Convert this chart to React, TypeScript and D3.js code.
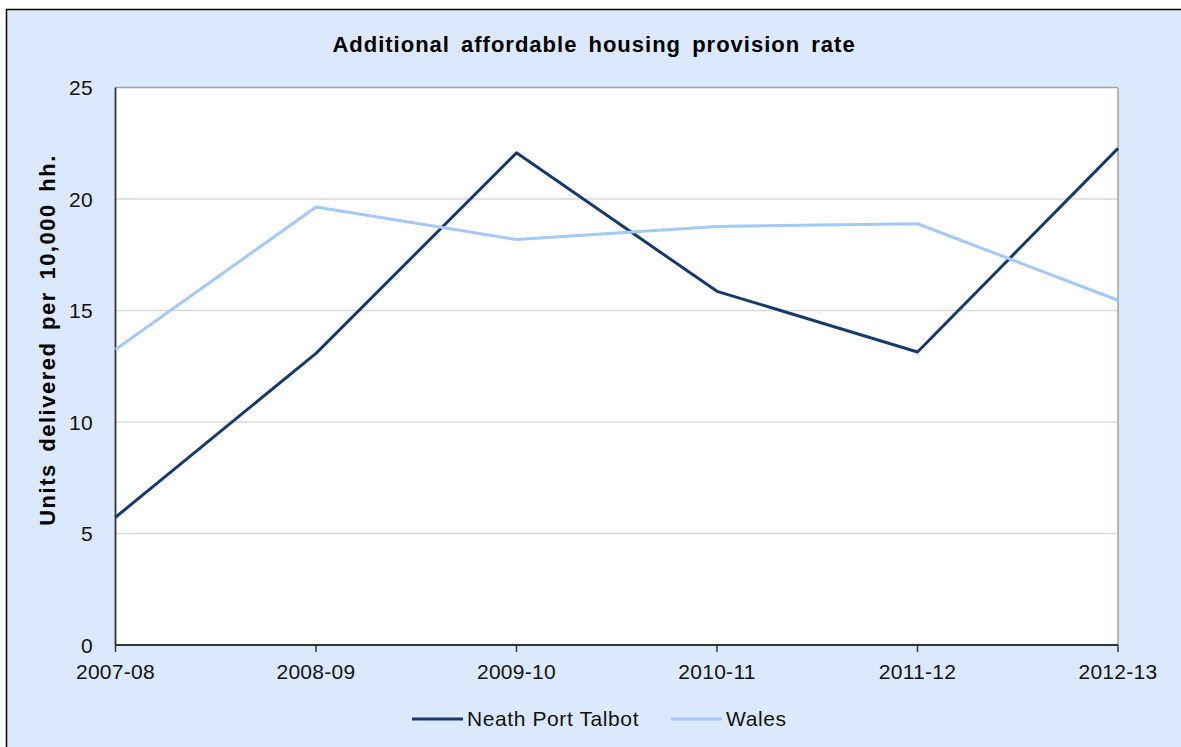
import React from "react";
import * as d3 from "d3";

const categories = ["2007-08", "2008-09", "2009-10", "2010-11", "2011-12", "2012-13"];
const neathPortTalbot = [5.73, 13.08, 22.07, 15.86, 13.14, 22.27];
const wales = [13.25, 19.64, 18.18, 18.77, 18.89, 15.46];
const yTicks = [0, 5, 10, 15, 20, 25];
const seriesNames = ["Neath Port Talbot", "Wales"];
const seriesColors = ["#173a6c", "#a3c9f7"];

const W = 1181;
const H = 747;
const plot = { left: 115.5, right: 1118, top: 87.5, bottom: 645 };
const FONT = "'Liberation Sans', Arial, sans-serif";

export default function App() {
  const x = d3.scalePoint<string>().domain(categories).range([plot.left, plot.right]);
  const y = d3.scaleLinear().domain([0, 25]).range([plot.bottom, plot.top]);
  const line = d3
    .line<number>()
    .x((_, i) => x(categories[i]) as number)
    .y((d) => y(d));
  const series = [neathPortTalbot, wales];

  return (
    <svg
      width={W}
      height={H}
      style={{ position: "absolute", left: 0, top: 0, display: "block" }}
      fontFamily={FONT}
    >
      <rect x={0} y={0} width={W} height={H} fill="#ffffff" />
      <rect x={6.5} y={9.5} width={W + 10} height={H + 10} fill="#dce9fc" stroke="#000" strokeWidth={1.5} />
      <text x={594} y={52} textAnchor="middle" fontSize={22} fontWeight="bold" letterSpacing={1} wordSpacing={4} fill="#000">
        Additional affordable housing provision rate
      </text>
      <rect
        x={plot.left}
        y={plot.top}
        width={plot.right - plot.left}
        height={plot.bottom - plot.top}
        fill="#ffffff"
      />
      {yTicks.filter((t) => t > 0 && t < 25).map((t) => (
        <line key={t} x1={plot.left} x2={plot.right} y1={y(t)} y2={y(t)} stroke="#d9d9d9" strokeWidth={1.5} />
      ))}
      <line x1={plot.left} x2={plot.right} y1={plot.top} y2={plot.top} stroke="#a0a0a0" strokeWidth={1.5} />
      <line x1={plot.right} x2={plot.right} y1={plot.top} y2={plot.bottom} stroke="#a0a0a0" strokeWidth={1.5} />
      <line x1={plot.left} x2={plot.left} y1={plot.top} y2={plot.bottom} stroke="#333" strokeWidth={1.8} />
      <line x1={plot.left} x2={plot.right} y1={plot.bottom} y2={plot.bottom} stroke="#333" strokeWidth={1.8} />
      {categories.map((c) => (
        <g key={c}>
          <line x1={x(c)} x2={x(c)} y1={plot.bottom} y2={plot.bottom + 7} stroke="#333" strokeWidth={1.5} />
          <text x={x(c)} y={679} textAnchor="middle" fontSize={21} letterSpacing={0.3} fill="#111">
            {c}
          </text>
        </g>
      ))}
      {yTicks.map((t) => (
        <text key={t} x={93} y={y(t)} dy="0.36em" textAnchor="end" fontSize={21} letterSpacing={0.3} fill="#111">
          {t}
        </text>
      ))}
      <text
        transform={`translate(55,340) rotate(-90)`}
        textAnchor="middle"
        fontSize={22}
        fontWeight="bold"
        letterSpacing={1.5}
        wordSpacing={4}
        fill="#000"
      >
        Units delivered per 10,000 hh.
      </text>
      {series.map((s, i) => (
        <path
          key={i}
          d={line(s) || ""}
          fill="none"
          stroke={seriesColors[i]}
          strokeWidth={3}
          strokeLinejoin="round"
        />
      ))}
      {/* legend */}
      <line x1={412} x2={463} y1={719} y2={719} stroke={seriesColors[0]} strokeWidth={3} />
      <text x={467} y={726} fontSize={21} letterSpacing={0.6} fill="#111">
        {seriesNames[0]}
      </text>
      <line x1={671} x2={722} y1={719} y2={719} stroke={seriesColors[1]} strokeWidth={3} />
      <text x={726} y={726} fontSize={21} letterSpacing={0.6} fill="#111">
        {seriesNames[1]}
      </text>
    </svg>
  );
}
